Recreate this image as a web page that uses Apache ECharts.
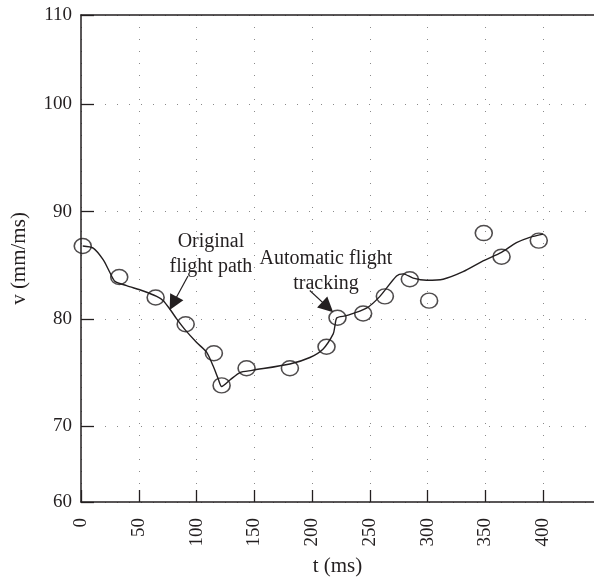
<!DOCTYPE html>
<html>
<head>
<meta charset="utf-8">
<script src="https://cdn.jsdelivr.net/npm/echarts@6/dist/echarts.min.js"></script>
<style>
  html, body { margin: 0; padding: 0; background: #fff; }
  #chart { width: 594px; height: 582px; }
</style>
</head>
<body>
<div id="chart"></div>
<script>
// tracked points (circles)
const trackT = [1.5, 33.1, 64.6, 90.6, 115, 121.7, 143.3, 180.8, 212.5, 222, 244.2, 263, 284.6, 301.3, 348.6, 364, 396.2];
const trackV = [86.8, 83.9, 82.0, 79.5, 76.8, 73.8, 75.4, 75.4, 77.4, 80.1, 80.5, 82.1, 83.7, 81.7, 88.0, 85.8, 87.3];

// original path (curve)
const pathT = [1.5, 10.6, 19.3, 25.1, 29.4, 39.5, 53.9, 65.5, 71.2, 77.0, 82.8, 90.0, 100.1, 108.7, 114.4, 118.8, 121.7,
  128.9, 137.5, 148, 180.8, 198.1, 209.6, 218.3, 219.7, 221.5, 229.8, 247.1, 258.7, 273.1, 278.8, 287.5, 299.1,
  313.4, 330.7, 348.0, 363.9, 376.9, 388.4, 399.9];
const pathV = [86.8, 86.6, 85.5, 84.3, 83.5, 83.1, 82.6, 82.1, 81.7, 80.9, 80.0, 79.0, 77.8, 76.9, 75.6, 74.4, 73.7,
  74.3, 75.0, 75.2, 75.8, 76.4, 77.2, 78.6, 79.3, 80.1, 80.3, 81.0, 82.1, 84.0, 84.2, 83.8, 83.6,
  83.7, 84.4, 85.4, 86.2, 87.1, 87.6, 87.9];

const xTickValues = [0, 50, 100, 150, 200, 250, 300, 350, 400];
const yTickValues = [62.93, 70, 80, 90, 100, 108.33];
const yTickLabels = ['60', '70', '80', '90', '100', '110'];

const serif = '"Liberation Serif", "DejaVu Serif", serif';
const ink = '#231f20';

const chart = echarts.init(document.getElementById('chart'));

const dotted = { color: '#8a8a8a', width: 1, type: [1, 11] };

chart.setOption({
  animation: false,
  backgroundColor: '#fff',
  grid: { left: 81, top: 15, right: 0, bottom: 79 },
  xAxis: [{
    type: 'value',
    min: 0,
    max: 444,
    name: 't (ms)',
    nameLocation: 'middle',
    nameGap: 54,
    nameTextStyle: { fontFamily: serif, fontSize: 21, color: ink },
    axisLine: { show: true, lineStyle: { color: ink, width: 1.5 } },
    axisTick: { show: true, inside: true, length: 12, customValues: xTickValues, lineStyle: { color: ink, width: 1.3 } },
    axisLabel: { customValues: xTickValues, rotate: 90, margin: 16, fontFamily: serif, fontSize: 19, color: ink },
    splitLine: { show: true, lineStyle: dotted }
  }, {
    type: 'value',
    position: 'top',
    min: 0,
    max: 444,
    axisLine: { show: true, lineStyle: { color: ink, width: 1.5 } },
    axisTick: { show: false },
    axisLabel: { show: false },
    splitLine: { show: false }
  }],
  yAxis: {
    type: 'value',
    min: yTickValues[0],
    max: yTickValues[yTickValues.length - 1],
    name: 'v (mm/ms)',
    nameLocation: 'middle',
    nameGap: 51,
    nameTextStyle: { fontFamily: serif, fontSize: 21, color: ink },
    axisLine: { show: true, lineStyle: { color: ink, width: 1.5 } },
    axisTick: { show: true, inside: true, length: 13, customValues: yTickValues, lineStyle: { color: ink, width: 1.3 } },
    axisLabel: {
      customValues: yTickValues,
      margin: 9,
      fontFamily: serif,
      fontSize: 19,
      color: ink,
      formatter: function (v) {
        const i = yTickValues.indexOf(v);
        return i >= 0 ? yTickLabels[i] : '';
      }
    },
    splitLine: { show: true, lineStyle: dotted }
  },
  series: [{
    name: 'Original flight path',
    type: 'line',
    data: pathT.map((t, i) => [t, pathV[i]]),
    smooth: 0.25,
    showSymbol: false,
    color: ink,
    lineStyle: { color: ink, width: 1.4 },
    markLine: {
      silent: true,
      symbol: ['none', 'triangle'],
      symbolSize: 15,
      label: { show: false },
      itemStyle: { color: ink },
      lineStyle: { color: ink, width: 1.2, type: 'solid' },
      data: [
        [{ coord: [92.6, 84.0] }, { coord: [79.8, 81.45] }],
        [{ coord: [198, 82.65] }, { coord: [213.5, 81.1] }]
      ]
    }
  }, {
    name: 'Automatic flight tracking',
    type: 'scatter',
    data: trackT.map((t, i) => [t, trackV[i]]),
    symbol: 'circle',
    symbolSize: [17, 15],
    itemStyle: { color: 'transparent', borderColor: ink, borderWidth: 1.5 },
    markPoint: {
      silent: true,
      symbol: 'circle',
      symbolSize: 0,
      label: {
        show: true,
        position: 'inside',
        fontFamily: serif,
        fontSize: 20,
        lineHeight: 25,
        color: ink,
        align: 'center'
      },
      data: [
        { coord: [112.5, 86.0], value: 0, label: { formatter: 'Original\nflight path' } },
        { coord: [212, 84.4], value: 0, label: { formatter: 'Automatic flight\ntracking' } }
      ]
    }
  }]
});
</script>
</body>
</html>
